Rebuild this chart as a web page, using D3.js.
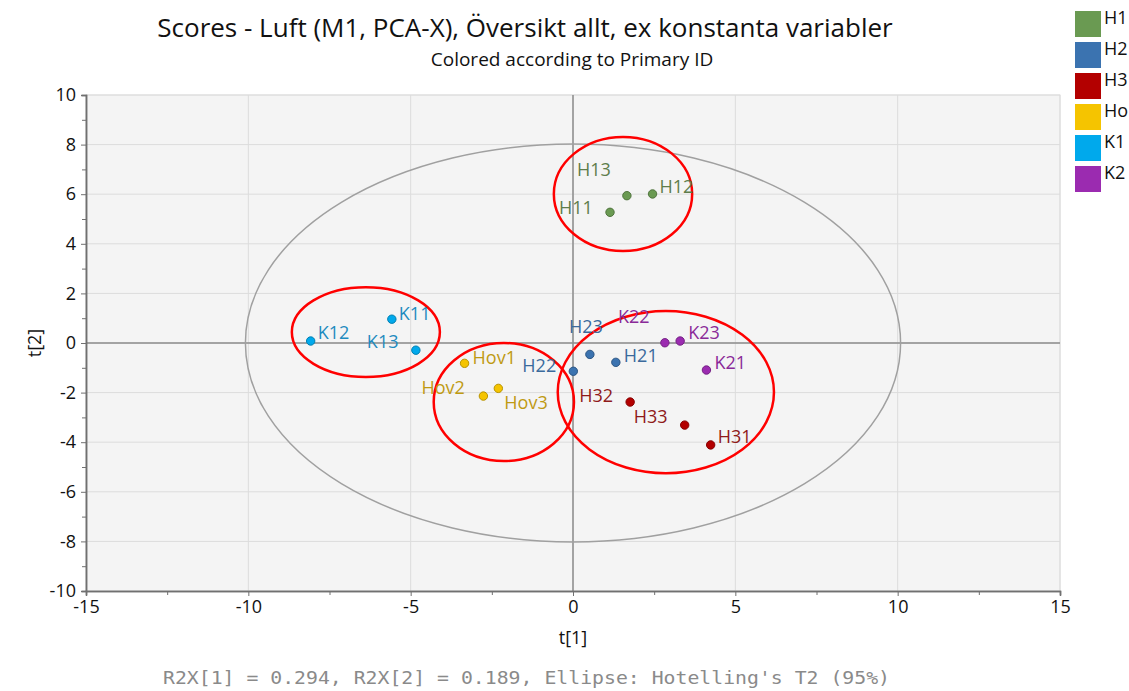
<!DOCTYPE html>
<html>
<head>
<meta charset="utf-8">
<script src="https://cdn.jsdelivr.net/npm/d3@7"></script>
<style>
  body { margin: 0; background: #fff; }
  svg text { font-family: "Open Sans", "Noto Sans", sans-serif; }
</style>
</head>
<body>
<svg id="chart" width="1129" height="691"></svg>
<script>
var obsNames  = ["H11","H12","H13","H21","H22","H23","H31","H32","H33","Hov1","Hov2","Hov3","K11","K12","K13","K21","K22","K23"];
var obsGroups = ["H1","H1","H1","H2","H2","H2","H3","H3","H3","Ho","Ho","Ho","K1","K1","K1","K2","K2","K2"];
var t1 = [1.14, 2.45, 1.66, 1.32, 0.01, 0.52, 4.24, 1.76, 3.44, -3.34, -2.76, -2.30, -5.58, -8.08, -4.84, 4.11, 2.83, 3.30];
var t2 = [5.27, 6.01, 5.94, -0.78, -1.14, -0.46, -4.11, -2.38, -3.31, -0.82, -2.14, -1.83, 0.96, 0.08, -0.29, -1.09, 0.01, 0.08];

var groups = ["H1","H2","H3","Ho","K1","K2"];
var groupColors = ["#6a9a52","#3b73b0","#b30000","#f5c400","#00a9ec","#9b2bb0"];
var labelColors = ["#5e7d4b","#3b6a9c","#8f1a1a","#bf9a12","#1f8bbf","#8a2a98"];

// hand drawn red ellipses (center t1, center t2, radius t1, radius t2)
var markCx = [1.54, -6.38, -2.13, 2.86];
var markCy = [6.01, 0.44, -2.38, -1.98];
var markRx = [2.13, 2.28, 2.16, 3.33];
var markRy = [2.30, 1.81, 2.38, 3.27];

// Hotelling T2 ellipse radii
var hotRx = 10.09, hotRy = 8.02;

var xTicks = [-15,-10,-5,0,5,10,15];
var yTicks = [-10,-8,-6,-4,-2,0,2,4,6,8,10];

// label offsets in px (left edge, vertical centre) relative to the point
var labelDx = [-51, 7, -50, 8, -51, -21, 7, -51, -51, 8, -62, 6, 7, 7, -49, 8, -47, 8];
var labelDy = [-5, -7, -26, -7, -6, -28, -8, -6, -8, -6, -8, 14, -5, -8, -8, -7, -26, -8];

var svg = d3.select("#chart");
var pLeft = 86, pRight = 1060, pTop = 95, pBottom = 591;

var x = d3.scaleLinear().domain([-15, 15]).range([pLeft, pRight]);
var y = d3.scaleLinear().domain([-10, 10]).range([pBottom, pTop]);
var color = d3.scaleOrdinal().domain(groups).range(groupColors);
var lcolor = d3.scaleOrdinal().domain(groups).range(labelColors);

// plot background
svg.append("rect").attr("x", pLeft).attr("y", pTop)
  .attr("width", pRight - pLeft).attr("height", pBottom - pTop)
  .attr("fill", "#f4f4f4").attr("stroke", "#e0e0e0");

// grid
svg.append("g").selectAll("line").data(xTicks.slice(1)).enter().append("line")
  .attr("x1", d => x(d)).attr("x2", d => x(d)).attr("y1", pTop).attr("y2", pBottom)
  .attr("stroke", "#dcdcdc").attr("stroke-width", 1);
svg.append("g").selectAll("line").data(yTicks.slice(1)).enter().append("line")
  .attr("y1", d => y(d)).attr("y2", d => y(d)).attr("x1", pLeft).attr("x2", pRight)
  .attr("stroke", "#dcdcdc").attr("stroke-width", 1);

// zero lines
svg.append("line").attr("x1", x(0)).attr("x2", x(0)).attr("y1", pTop).attr("y2", pBottom)
  .attr("stroke", "#8c8c8c").attr("stroke-width", 1.5);
svg.append("line").attr("y1", y(0)).attr("y2", y(0)).attr("x1", pLeft).attr("x2", pRight)
  .attr("stroke", "#8c8c8c").attr("stroke-width", 1.5);

// axes
var xAxis = svg.append("g").attr("transform", "translate(0," + pBottom + ")")
  .call(d3.axisBottom(x).tickValues(xTicks).tickSize(5).tickPadding(4));
var xMinor = svg.append("g").attr("transform", "translate(0," + pBottom + ")")
  .call(d3.axisBottom(x).tickValues(d3.range(-12.5, 15, 5)).tickSize(4).tickFormat(""));
var yAxis = svg.append("g").attr("transform", "translate(" + pLeft + ",0)")
  .call(d3.axisLeft(y).tickValues(yTicks).tickSize(5).tickPadding(5));
var yMinor = svg.append("g").attr("transform", "translate(" + pLeft + ",0)")
  .call(d3.axisLeft(y).tickValues(d3.range(-9, 10, 2)).tickSize(4).tickFormat(""));

[xAxis, xMinor, yAxis, yMinor].forEach(function (a) {
  a.select(".domain").attr("stroke", "#707070").attr("stroke-width", 1.5);
  a.selectAll(".tick line").attr("stroke", "#707070");
  a.selectAll(".tick text").attr("font-size", 18).attr("fill", "#111")
    .attr("font-family", "'Open Sans', sans-serif");
});
xAxis.selectAll(".tick text").text(d => d < 0 ? "-" + Math.abs(d) : d);
yAxis.selectAll(".tick text").text(d => d < 0 ? "-" + Math.abs(d) : d);

// Hotelling ellipse
svg.append("ellipse").attr("cx", x(0)).attr("cy", y(0))
  .attr("rx", x(hotRx) - x(0)).attr("ry", y(0) - y(hotRy))
  .attr("fill", "none").attr("stroke", "#a0a0a0").attr("stroke-width", 1.5);

// red ellipses
svg.append("g").selectAll("ellipse").data(markCx).enter().append("ellipse")
  .attr("cx", (d, i) => x(d)).attr("cy", (d, i) => y(markCy[i]))
  .attr("rx", (d, i) => x(markRx[i]) - x(0)).attr("ry", (d, i) => y(0) - y(markRy[i]))
  .attr("fill", "none").attr("stroke", "#ff0000").attr("stroke-width", 2.5);

// points
var pts = svg.append("g").selectAll("g").data(obsNames).enter().append("g");
pts.append("circle")
  .attr("cx", (d, i) => x(t1[i])).attr("cy", (d, i) => y(t2[i])).attr("r", 4.2)
  .attr("fill", (d, i) => color(obsGroups[i]))
  .attr("stroke", (d, i) => d3.color(color(obsGroups[i])).darker(0.8)).attr("stroke-width", 1);
pts.append("text")
  .attr("x", (d, i) => x(t1[i]) + labelDx[i]).attr("y", (d, i) => y(t2[i]) + labelDy[i])
  .attr("dy", "0.35em").attr("font-size", 18)
  .attr("fill", (d, i) => lcolor(obsGroups[i]))
  .text(d => d);

// titles
svg.append("text").attr("x", 525).attr("y", 37).attr("text-anchor", "middle")
  .attr("font-size", 26).attr("fill", "#111")
  .text("Scores - Luft (M1, PCA-X), Översikt allt, ex konstanta variabler");
svg.append("text").attr("x", 572).attr("y", 66).attr("text-anchor", "middle")
  .attr("font-size", 19).attr("fill", "#111")
  .text("Colored according to Primary ID");

// axis titles
svg.append("text").attr("x", x(0)).attr("y", 644).attr("text-anchor", "middle")
  .attr("font-size", 18).attr("fill", "#111").text("t[1]");
svg.append("text").attr("transform", "translate(41," + y(0) + ") rotate(-90)")
  .attr("text-anchor", "middle").attr("font-size", 18).attr("fill", "#111").text("t[2]");

// footer
svg.append("text").attr("x", 163).attr("y", 684)
  .attr("font-size", 17).attr("fill", "#8a8a8a")
  .attr("textLength", 727).attr("lengthAdjust", "spacingAndGlyphs")
  .style("font-family", "'DejaVu Sans Mono', 'Liberation Mono', monospace")
  .text("R2X[1] = 0.294, R2X[2] = 0.189, Ellipse: Hotelling's T2 (95%)");

// legend
var leg = svg.append("g").selectAll("g").data(groups).enter().append("g")
  .attr("transform", (d, i) => "translate(1075," + (11 + i * 31) + ")");
leg.append("rect").attr("width", 26).attr("height", 26).attr("fill", d => color(d));
leg.append("text").attr("x", 29).attr("y", 7).attr("dy", "0.35em")
  .attr("font-size", 18).attr("fill", "#111").text(d => d);
</script>
</body>
</html>
